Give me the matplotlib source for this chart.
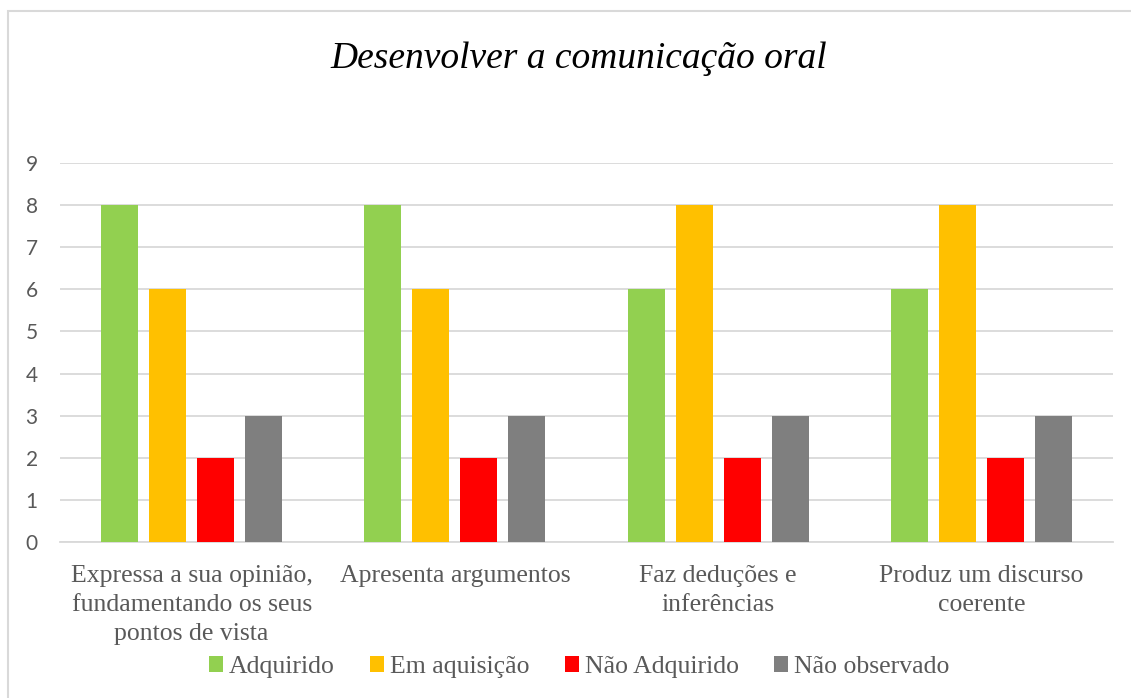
import matplotlib
matplotlib.use('Agg')
import matplotlib.pyplot as plt
import numpy as np
from matplotlib.patches import Rectangle

# chart values
categories = ['Expressa a sua opinião,\nfundamentando os seus\npontos de vista',
              'Apresenta argumentos',
              'Faz deduções e\ninferências',
              'Produz um discurso\ncoerente']
series_names = ['Adquirido', 'Em aquisição', 'Não Adquirido', 'Não observado']
adquirido = [8, 8, 6, 6]
em_aquisicao = [6, 6, 8, 8]
nao_adquirido = [2, 2, 2, 2]
nao_observado = [3, 3, 3, 3]
yticks = list(range(0, 10))

colors = ['#92D050', '#FFC000', '#FF0000', '#7F7F7F']
text_color = '#595959'
grid_color = '#D9D9D9'

plt.rcParams['font.family'] = ['Liberation Serif', 'DejaVu Serif']

fig = plt.figure(figsize=(11.31, 6.98), dpi=100)

# outer chart border (only left and top are visible in the image)
fig.patches.append(Rectangle((8 / 1131, -0.1), 1.2, 1.1 - 11 / 698,
                             transform=fig.transFigure, fill=False,
                             edgecolor=grid_color, linewidth=1.5))

ax = fig.add_axes([60 / 1131, 1 - 542 / 698, (1113 - 60) / 1131, (542 - 163) / 698])

x = np.arange(len(categories))
step = 0.1825
width = 0.141
all_series = [adquirido, em_aquisicao, nao_adquirido, nao_observado]
for i, (vals, name, col) in enumerate(zip(all_series, series_names, colors)):
  ax.bar(x + (i - 1.5) * step, vals, width, color=col, label=name, zorder=3)

ax.set_xlim(-0.5, len(categories) - 0.5)
ax.set_ylim(0, 9)
ax.grid(axis='y', color=grid_color, linewidth=1.3, zorder=0)
for side in ['left', 'right', 'top']:
  ax.spines[side].set_visible(False)
ax.spines['bottom'].set_color(grid_color)
ax.spines['bottom'].set_linewidth(1.3)

# y ticks in a Calibri-like sans
ax.set_yticks(yticks)
ax.set_yticklabels([str(v) for v in yticks], fontfamily='Lato', fontsize=15,
                   color=text_color)
ax.tick_params(axis='y', length=0, pad=16)

# category labels drawn as text so the line spacing sticks
ax.set_xticks(x)
ax.set_xticklabels([])
ax.tick_params(axis='x', length=0)
for xi, cat in zip(x, categories):
  ax.text(xi, -0.062, cat, transform=ax.get_xaxis_transform(), ha='center',
          va='top', fontsize=18.5, color=text_color, linespacing=1.4)

fig.text(0.512, 1 - 59 / 698, 'Desenvolver a comunicação oral',
         ha='center', va='center', fontsize=27, style='italic', color='black')

leg = fig.legend(loc='center', bbox_to_anchor=(0.512, 1 - 667 / 698), ncol=4,
                 frameon=False, fontsize=18.5,
                 handlelength=0.55, handleheight=0.55, handletextpad=0.23,
                 columnspacing=1.36)
for t in leg.get_texts():
  t.set_color(text_color)

fig.savefig('out.png', dpi=100)
